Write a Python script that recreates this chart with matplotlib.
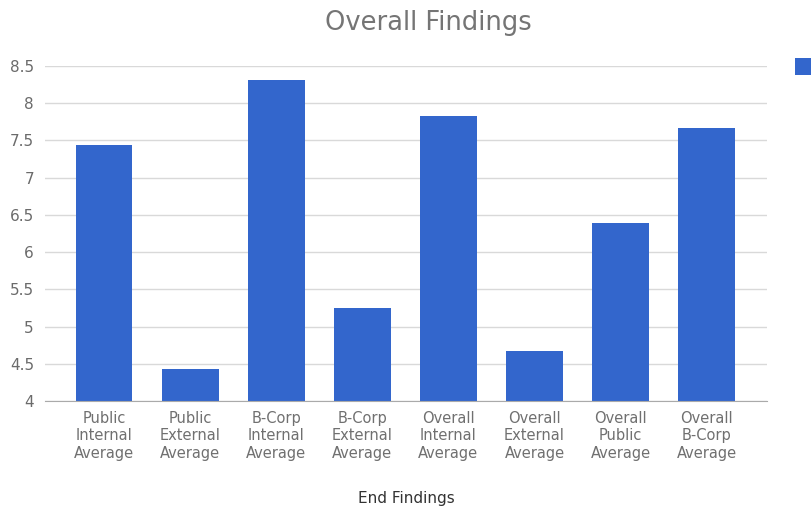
import matplotlib
matplotlib.use("Agg")
import matplotlib.pyplot as plt
from matplotlib.patches import Rectangle

categories = ["Public\nInternal\nAverage", "Public\nExternal\nAverage", "B-Corp\nInternal\nAverage",
              "B-Corp\nExternal\nAverage", "Overall\nInternal\nAverage", "Overall\nExternal\nAverage",
              "Overall\nPublic\nAverage", "Overall\nB-Corp\nAverage"]
values = [7.44, 4.43, 8.31, 5.25, 7.83, 4.67, 6.39, 7.67]
yticks = [4, 4.5, 5, 5.5, 6, 6.5, 7, 7.5, 8, 8.5]
ytick_labels = ["4", "4.5", "5", "5.5", "6", "6.5", "7", "7.5", "8", "8.5"]

plt.rcParams['font.family'] = ['DejaVu Sans']
W, H = 811, 514
fig = plt.figure(figsize=(W/100, H/100), dpi=100)
ax = fig.add_axes([45/W, (H-401)/H, (767-45)/W, (401-66)/H])

blue = "#3366cc"
x = list(range(len(categories)))
ax.bar(x, values, width=0.66, color=blue, zorder=3)
ax.set_xlim(-0.685, 7.70)
ax.set_ylim(4, 8.5)
ax.set_yticks(yticks)
ax.set_yticklabels(ytick_labels, color="#6b6b6b", fontsize=11)
ax.set_xticks(x)
ax.set_xticklabels(categories, color="#707070", fontsize=10.5, linespacing=1.22)
ax.tick_params(axis='x', length=0, pad=7)
ax.tick_params(axis='y', length=0, pad=8)
ax.grid(axis='y', color="#d9d9d9", linewidth=1, zorder=0)
for s in ["top", "right", "left"]:
    ax.spines[s].set_visible(False)
ax.spines["bottom"].set_color("#aaaaaa")
ax.spines["bottom"].set_zorder(4)

fig.text(428/W, 1 - 23/H, "Overall Findings", ha="center", va="center", fontsize=18.5, color="#757575")
fig.text(406/W, 1 - 498/H, "End Findings", ha="center", va="center", fontsize=11, color="#333333")

fig.patches.append(Rectangle((795/W, 1 - 75/H), 16/W, 17/H, transform=fig.transFigure,
                             facecolor=blue, edgecolor="none"))

fig.savefig("out.png", dpi=100)
